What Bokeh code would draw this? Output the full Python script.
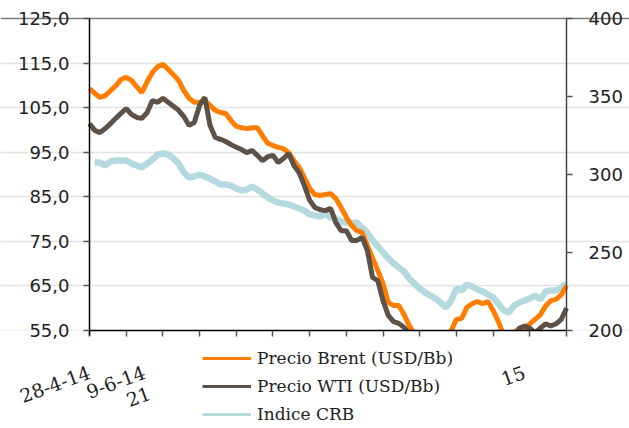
import numpy as np
from bokeh.plotting import figure
from bokeh.models import Range1d, LinearAxis, FixedTicker, Legend, LegendItem, ColumnDataSource, Grid
from bokeh.embed import file_html
from bokeh.resources import INLINE

# días transcurridos desde el 28-4-14 (una observación cada 4 días)
dia = list(range(0, 365, 4))

brent = [109.3, 108.2, 107.3, 107.7, 108.8, 109.9, 111.3, 111.8, 111.1, 109.7,
         108.4, 110.8, 112.9, 114.2, 114.7, 113.6, 112.4, 111.1, 108.8, 107.1,
         106.2, 106.2, 106.6, 105.5, 104.4, 103.9, 103.7, 102.1, 100.8, 100.5,
         100.3, 100.5, 100.5, 98.7, 97.0, 96.5, 96.1, 95.8, 94.9, 93.1,
         91.6, 89.3, 86.9, 85.5, 85.3, 85.5, 85.7, 84.6, 82.6, 80.4,
         78.6, 77.4, 77.0, 74.1, 71.2, 68.5, 65.5, 61.3, 60.6, 60.6,
         58.6, 56.1, 54.3, 51.5, 50.0, 49.0, 48.5, 49.5, 51.0, 55.0,
         57.5, 57.7, 60.2, 61.0, 61.5, 61.0, 61.5, 59.5, 57.0, 54.0,
         53.5, 54.5, 55.5, 55.5, 56.5, 57.5, 58.5, 60.5, 61.7, 62.0,
         63.0, 65.0]

wti = [101.4, 99.9, 99.4, 100.3, 101.4, 102.6, 103.7, 104.8, 103.5, 102.8,
       102.6, 103.9, 106.6, 106.2, 107.1, 106.2, 105.3, 104.4, 103.0, 101.0,
       101.7, 105.5, 107.3, 101.0, 98.3, 97.9, 97.4, 96.7, 96.1, 95.6,
       94.9, 95.4, 94.3, 93.1, 94.0, 94.3, 92.7, 93.6, 94.7, 92.0,
       90.4, 87.5, 84.2, 82.6, 82.1, 81.9, 82.4, 79.2, 77.4, 77.4,
       75.2, 75.2, 75.9, 73.0, 66.9, 66.2, 61.7, 58.4, 57.0, 56.6,
       55.7, 54.3, 52.0, 50.0, 48.5, 47.5, 47.0, 47.5, 48.5, 49.5,
       50.0, 50.5, 51.0, 51.5, 51.0, 51.5, 51.0, 50.0, 49.0, 48.5,
       49.0, 50.0, 55.5, 56.0, 55.5, 54.5, 55.5, 56.5, 56.0, 56.5,
       57.5, 60.0]

crb = [np.nan, 307.7, 307.7, 305.8, 308.3, 309.0, 309.0, 309.0, 307.0, 305.8,
       304.5, 307.0, 309.6, 312.8, 313.5, 312.8, 310.3, 307.0, 301.3, 298.1,
       298.7, 300.0, 298.7, 297.4, 295.5, 293.6, 293.6, 292.9, 291.0, 289.7,
       290.4, 292.3, 290.4, 287.8, 285.3, 283.3, 282.0, 281.4, 280.8, 279.5,
       278.2, 276.9, 274.4, 273.7, 273.1, 275.0, 272.4, 271.8, 269.9, 269.2,
       268.6, 269.2, 266.0, 262.8, 257.7, 253.9, 250.0, 246.2, 243.0, 240.4,
       237.8, 233.3, 230.1, 226.9, 224.4, 222.4, 220.5, 217.9, 214.7, 219.2,
       226.9, 225.6, 229.5, 228.2, 226.3, 225.0, 223.1, 221.2, 217.3, 212.8,
       211.5, 216.0, 217.9, 219.2, 220.5, 222.4, 219.9, 225.0, 225.6, 225.6,
       227.6, 230.0]

ticks_izq = [55, 65, 75, 85, 95, 105, 115, 125]
etiquetas_izq = ["55,0", "65,0", "75,0", "85,0", "95,0", "105,0", "115,0", "125,0"]
ticks_der = [200, 250, 300, 350, 400]
marcas_x = list(range(0, 365, 28))
ticks_x = [0, 42, 332]
etiquetas_x = ["28-4-14", "9-6-14", "15"]
ticks_x2 = [46]
etiquetas_x2 = ["21"]

nombres = ["Precio Brent (USD/Bb)", "Precio WTI (USD/Bb)", "Indice CRB"]
col_brent, col_wti, col_crb = "#FF7D00", "#5E5148", "#B4D9DF"

x_lo, x_hi = 0, 364
lo_izq, hi_izq = 55, 125
lo_der, hi_der = 200, 400

# layout in pixels: the frame covers the whole canvas, the axes are pinned
W, H = 629, 428
PLOT_L, PLOT_R, PLOT_T, PLOT_B = 89, 566, 18, 330
kx = (PLOT_R - PLOT_L) / (x_hi - x_lo)
ky = (PLOT_B - PLOT_T) / (hi_izq - lo_izq)
kr = (PLOT_B - PLOT_T) / (hi_der - lo_der)
xr = Range1d(x_lo - PLOT_L / kx, x_hi + (W - PLOT_R) / kx)
yr = Range1d(lo_izq - (H - PLOT_B) / ky, hi_izq + PLOT_T / ky)
rr = Range1d(lo_der - (H - PLOT_B) / kr, hi_der + PLOT_T / kr)

src = ColumnDataSource(dict(dia=dia, brent=brent, wti=wti, crb=np.array(crb, dtype=float)))

p = figure(width=W, height=H, output_backend="svg", toolbar_location=None,
           x_range=xr, y_range=yr, min_border=0)
p.extra_y_ranges = {"crb": rr}
p.outline_line_color = None
p.xgrid.visible = False
p.ygrid.ticker = FixedTicker(ticks=ticks_izq[:-1])
p.ygrid.bounds = (x_lo, x_hi)
p.ygrid.grid_line_color = "#e2e2e2"
p.ygrid.grid_line_width = 1.5
# darker top rule at 125
p.add_layout(Grid(dimension=1, ticker=FixedTicker(ticks=ticks_izq[-1:]),
                  bounds=(x_lo - 6 / kx, x_hi), grid_line_color="#7a7a7a",
                  grid_line_width=1.5))

# thin copies (hidden under the real lines) used as legend samples
lc = p.line("dia", "crb", source=src, y_range_name="crb", line_color=col_crb, line_width=3)
lb = p.line("dia", "brent", source=src, line_color=col_brent, line_width=3)
lw = p.line("dia", "wti", source=src, line_color=col_wti, line_width=3)

p.line("dia", "crb", source=src, y_range_name="crb", line_color=col_crb, line_width=6.5)
p.line("dia", "brent", source=src, line_color=col_brent, line_width=5)
p.line("dia", "wti", source=src, line_color=col_wti, line_width=5)
# white band hiding everything below the 55 baseline
p.quad(left=[xr.start], right=[xr.end], bottom=[yr.start], top=[lo_izq],
       fill_color="white", line_color=None)

def style_y(ax, standoff):
    ax.axis_line_width = 1.5
    ax.major_tick_line_color = "#555555"
    ax.major_tick_line_width = 1.5
    ax.major_tick_in = 0
    ax.major_tick_out = 6
    ax.minor_tick_line_color = None
    ax.major_label_standoff = standoff
    ax.major_label_text_font = "DejaVu Sans"
    ax.major_label_text_font_size = "18px"
    ax.major_label_text_color = "#222222"

# left axis
ya = p.yaxis[0]
ya.fixed_location = x_lo
ya.ticker = FixedTicker(ticks=ticks_izq)
ya.bounds = (lo_izq - 1.1, hi_izq)
ya.major_label_overrides = {t: l for t, l in zip(ticks_izq, etiquetas_izq)}
ya.axis_line_color = "black"
style_y(ya, 14)

# right axis
ra = LinearAxis(y_range_name="crb", ticker=FixedTicker(ticks=ticks_der),
                bounds=(lo_der, hi_der), fixed_location=x_hi)
ra.axis_line_color = "#444444"
style_y(ra, 16)
p.add_layout(ra, "right")

# bottom axis: line and (minor) tick marks only, no labels
xa = p.xaxis[0]
xa.fixed_location = lo_izq
xa.bounds = (x_lo, x_hi)
xa.ticker = FixedTicker(ticks=[], minor_ticks=marcas_x)
xa.axis_line_color = "black"
xa.axis_line_width = 1.5
xa.major_tick_line_color = None
xa.minor_tick_line_color = "#555555"
xa.minor_tick_line_width = 1.5
xa.minor_tick_in = 0
xa.minor_tick_out = 6

# bottom axis: date labels
def label_axis(ticks, labels, standoff):
    ax = LinearAxis(fixed_location=lo_izq, ticker=FixedTicker(ticks=ticks))
    ax.major_label_overrides = {t: l for t, l in zip(ticks, labels)}
    ax.axis_line_color = None
    ax.major_tick_line_color = None
    ax.minor_tick_line_color = None
    ax.major_tick_out = 6
    ax.major_label_orientation = 0.349
    ax.major_label_standoff = standoff
    ax.major_label_text_font = "DejaVu Serif"
    ax.major_label_text_font_size = "19px"
    ax.major_label_text_color = "#222222"
    p.add_layout(ax, "below")

label_axis(ticks_x, etiquetas_x, 35)
label_axis(ticks_x2, etiquetas_x2, 56)

legend = Legend(items=[LegendItem(label=nombres[0], renderers=[lb]),
                       LegendItem(label=nombres[1], renderers=[lw]),
                       LegendItem(label=nombres[2], renderers=[lc])],
                location=(202, 4), orientation="vertical", padding=0, margin=0,
                spacing=8, glyph_width=49, glyph_height=20, label_height=20,
                label_standoff=6, border_line_color=None, background_fill_alpha=0,
                label_text_font="DejaVu Serif", label_text_font_size="17px",
                label_text_color="#222222")
p.add_layout(legend)

open("out.html", "w").write(file_html(p, INLINE))
